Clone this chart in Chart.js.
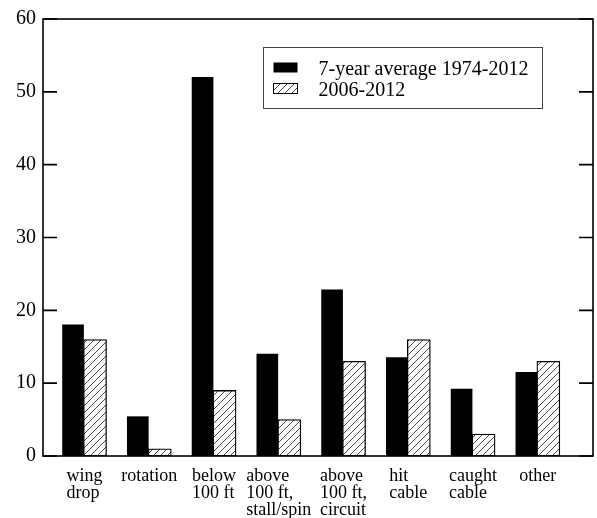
<!DOCTYPE html>
<html>
<head>
<meta charset="utf-8">
<script src="https://cdn.jsdelivr.net/npm/chart.js@4/dist/chart.umd.min.js"></script>
<style>
  html, body { margin: 0; padding: 0; background: #fff; }
  #wrap { width: 597px; height: 518px; }
</style>
</head>
<body>
<div id="wrap"><canvas id="chart"></canvas></div>
<script>
// ===== DATA =====
const categories = [
  ['wing', 'drop'],
  ['rotation'],
  ['below', '100 ft'],
  ['above', '100 ft,', 'stall/spin'],
  ['above', '100 ft,', 'circuit'],
  ['hit', 'cable'],
  ['caught', 'cable'],
  ['other']
];
const avgValues = [18, 5.4, 52, 14, 22.8, 13.5, 9.2, 11.5];
const recentValues = [16, 1, 9, 5, 13, 16, 3, 13];
const seriesNames = ['7-year average 1974-2012', '2006-2012'];
const yTicks = [0, 10, 20, 30, 40, 50, 60];

const FONT = "'Liberation Serif', 'Times New Roman', serif";

// ===== HATCH PATTERN =====
function makeHatch() {
  const c = document.createElement('canvas');
  c.width = 7; c.height = 7;
  const g = c.getContext('2d');
  g.fillStyle = '#fff';
  g.fillRect(0, 0, 7, 7);
  g.strokeStyle = '#333';
  g.lineWidth = 0.9;
  g.beginPath();
  g.moveTo(-1, 8); g.lineTo(8, -1);
  g.moveTo(-1, 1); g.lineTo(1, -1);
  g.moveTo(6, 8); g.lineTo(8, 6);
  g.stroke();
  return g.createPattern(c, 'repeat');
}
const hatch = makeHatch();

// ===== FRAME, INWARD TICKS, LABELS, LEGEND =====
const framePlugin = {
  id: 'frame',
  afterDraw(chart) {
    const ctx = chart.ctx;
    const a = chart.chartArea;
    const xs = chart.scales.x, ys = chart.scales.y;
    ctx.save();
    ctx.strokeStyle = '#000';
    ctx.lineWidth = 1.6;
    ctx.strokeRect(a.left, a.top, a.right - a.left, a.bottom - a.top);

    // ticks on both sides, pointing in
    ctx.beginPath();
    yTicks.forEach(v => {
      const y = ys.getPixelForValue(v);
      ctx.moveTo(a.left, y); ctx.lineTo(a.left + 14, y);
      ctx.moveTo(a.right, y); ctx.lineTo(a.right - 14, y);
    });
    ctx.stroke();

    // category labels: left-aligned block centred on the group
    ctx.fillStyle = '#000';
    ctx.font = '18px ' + FONT;
    ctx.textAlign = 'left';
    ctx.textBaseline = 'alphabetic';
    categories.forEach((lines, i) => {
      const cx = xs.getPixelForValue(i);
      const w = Math.max(...lines.map(l => ctx.measureText(l).width));
      const x0 = cx + 1 - w / 2;
      lines.forEach((l, k) => ctx.fillText(l, x0, a.bottom + 24.5 + k * 17.2));
    });

    // legend
    const lx = 263.5, ly = 47.5, lw = 279, lh = 61;
    ctx.lineWidth = 1;
    ctx.strokeStyle = '#444';
    ctx.fillStyle = '#fff';
    ctx.fillRect(lx, ly, lw, lh);
    ctx.strokeRect(lx, ly, lw, lh);
    ctx.font = '20px ' + FONT;
    chart.data.datasets.forEach((ds, k) => {
      const sy = ly + 20 + k * 21;
      ctx.fillStyle = ds.backgroundColor;
      ctx.fillRect(lx + 10, sy - 5, 24, 10);
      if (ds.borderWidth) {
        ctx.strokeStyle = '#000';
        ctx.strokeRect(lx + 10, sy - 5, 24, 10);
      }
      ctx.fillStyle = '#000';
      ctx.textBaseline = 'alphabetic';
      ctx.fillText(ds.label, lx + 55, sy + 7.5);
    });
    ctx.restore();
  }
};

// ===== CHART =====
new Chart(document.getElementById('chart'), {
  type: 'bar',
  data: {
    datasets: [
      {
        label: seriesNames[0],
        data: avgValues.map((v, i) => ({ x: i, y: v })),
        backgroundColor: '#000',
        borderWidth: 0,
        barThickness: 21
      },
      {
        label: seriesNames[1],
        data: recentValues.map((v, i) => ({ x: i, y: v })),
        backgroundColor: hatch,
        borderColor: '#000',
        borderWidth: 1.3,
        borderSkipped: false,
        barThickness: 23
      }
    ]
  },
  options: {
    responsive: true,
    maintainAspectRatio: false,
    animation: false,
    layout: { padding: { top: 15, right: 4, left: 0, bottom: 0 } },
    plugins: {
      legend: { display: false },
      tooltip: { enabled: false }
    },
    scales: {
      x: {
        type: 'linear',
        offset: false,
        min: -0.626,
        max: 7.867,
        grid: { display: false, offset: false },
        border: { display: false },
        ticks: { display: false },
        afterFit: (s) => { s.height = 62; }
      },
      y: {
        min: 0,
        max: 60,
        grid: { display: false, drawTicks: false },
        border: { display: false },
        ticks: {
          stepSize: 10,
          padding: 7,
          color: '#000',
          font: { family: FONT, size: 20 }
        },
        afterFit: (s) => { s.width = 43; }
      }
    }
  },
  plugins: [framePlugin]
});
</script>
</body>
</html>
